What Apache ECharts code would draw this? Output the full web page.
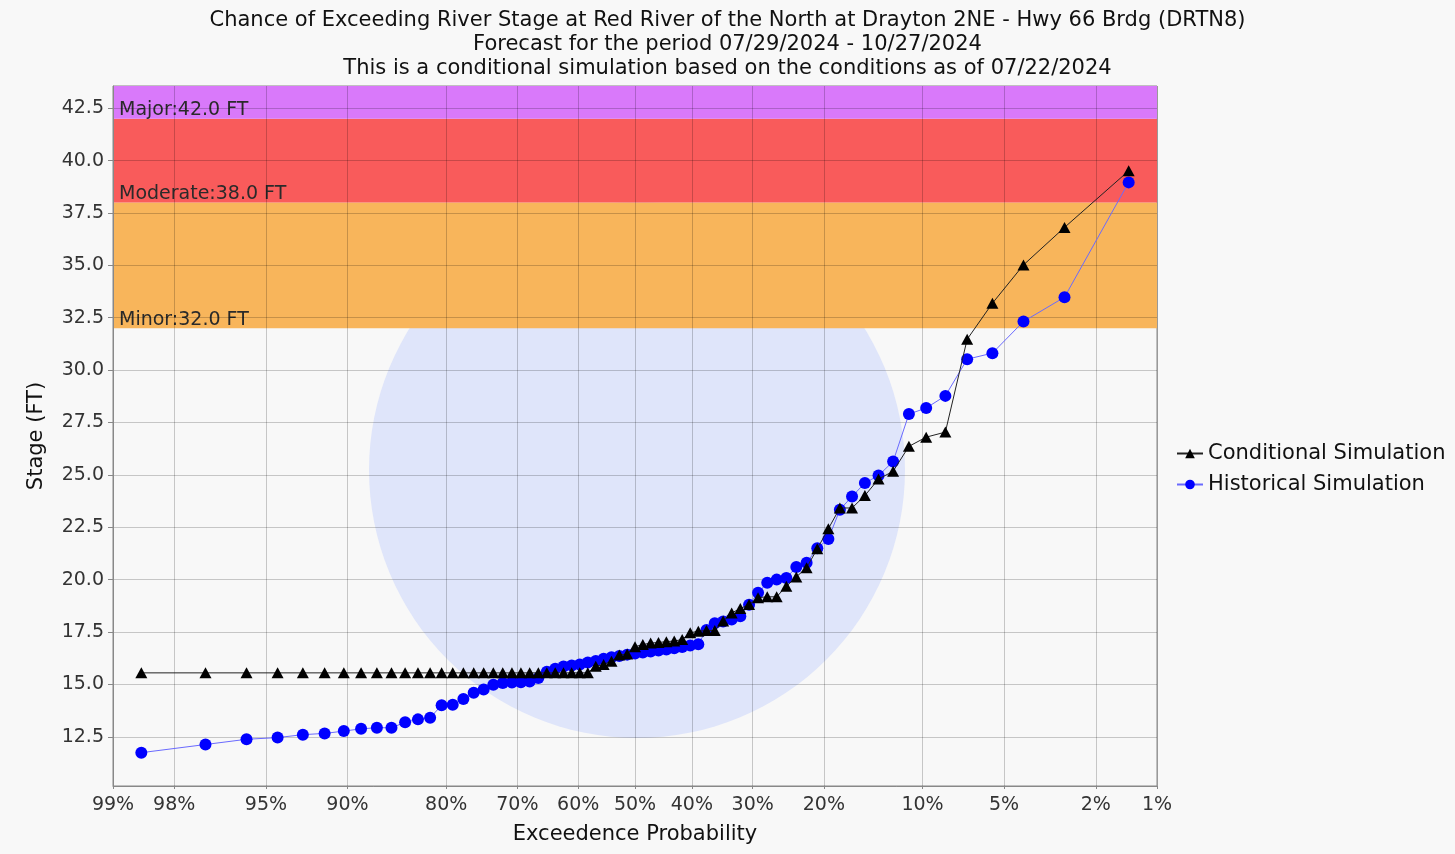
<!DOCTYPE html>
<html><head><meta charset="utf-8">
<script src="https://cdn.jsdelivr.net/npm/echarts@6/dist/echarts.min.js"></script>
<style>html,body{margin:0;padding:0;background:#ffffff}#c{width:1455px;height:854px}</style>
</head><body><div id="c"></div>
<script>
// Exceedance probability (%) of each ranked member, left to right
const exceedPct = [98.61, 97.22, 95.83, 94.44, 93.06, 91.67, 90.28, 88.89, 87.5, 86.11,
  84.72, 83.33, 81.94, 80.56, 79.17, 77.78, 76.39, 75.0, 73.61, 72.22,
  70.83, 69.44, 68.06, 66.67, 65.28, 63.89, 62.5, 61.11, 59.72, 58.33,
  56.94, 55.56, 54.17, 52.78, 51.39, 50.0, 48.61, 47.22, 45.83, 44.44,
  43.06, 41.67, 40.28, 38.89, 37.5, 36.11, 34.72, 33.33, 31.94, 30.56,
  29.17, 27.78, 26.39, 25.0, 23.61, 22.22, 20.83, 19.44, 18.06, 16.67,
  15.28, 13.89, 12.5, 11.11, 9.72, 8.33, 6.94, 5.56, 4.17, 2.78, 1.39];

const conditional = [15.55, 15.55, 15.55, 15.55, 15.55, 15.55, 15.55, 15.55, 15.55, 15.55,
  15.55, 15.55, 15.55, 15.55, 15.55, 15.55, 15.55, 15.55, 15.55, 15.55,
  15.55, 15.55, 15.55, 15.55, 15.55, 15.55, 15.55, 15.55, 15.55, 15.55,
  15.87, 15.95, 16.11, 16.40, 16.45, 16.80, 16.90, 16.97, 17.00, 17.04,
  17.07, 17.14, 17.46, 17.54, 17.57, 17.57, 18.02, 18.41, 18.62, 18.81,
  19.14, 19.18, 19.18, 19.68, 20.13, 20.57, 21.47, 22.43, 23.42, 23.42,
  24.01, 24.80, 25.17, 26.36, 26.80, 27.04, 31.47, 33.19, 35.02, 36.81, 39.51];

const historical = [11.74, 12.13, 12.38, 12.46, 12.60, 12.66, 12.77, 12.88, 12.93, 12.93,
  13.19, 13.33, 13.41, 14.00, 14.03, 14.30, 14.60, 14.76, 14.98, 15.07,
  15.09, 15.10, 15.14, 15.30, 15.60, 15.75, 15.85, 15.90, 15.95, 16.05,
  16.12, 16.22, 16.30, 16.36, 16.42, 16.47, 16.52, 16.57, 16.62, 16.67,
  16.72, 16.78, 16.86, 16.92, 17.60, 17.92, 18.00, 18.10, 18.25, 18.80,
  19.37, 19.85, 20.00, 20.08, 20.60, 20.80, 21.50, 21.94, 23.34, 23.97,
  24.61, 24.97, 25.64, 27.90, 28.19, 28.77, 30.52, 30.81, 32.32, 33.48, 38.96];

const xTickPct = [99, 98, 95, 90, 80, 70, 60, 50, 40, 30, 20, 10, 5, 2, 1];
const xTickLabels = ['99%', '98%', '95%', '90%', '80%', '70%', '60%', '50%', '40%', '30%', '20%', '10%', '5%', '2%', '1%'];
const yTicks = [12.5, 15.0, 17.5, 20.0, 22.5, 25.0, 27.5, 30.0, 32.5, 35.0, 37.5, 40.0, 42.5];

const floodNames = ['Minor', 'Moderate', 'Major'];
const floodStages = [32.0, 38.0, 42.0];

const titleLines = [
  'Chance of Exceeding River Stage at Red River of the North at Drayton 2NE - Hwy 66 Brdg (DRTN8)',
  'Forecast for the period 07/29/2024 - 10/27/2024',
  'This is a conditional simulation based on the conditions as of 07/22/2024'
];
const seriesNames = ['Conditional Simulation', 'Historical Simulation'];

// normal-probability (probit) axis transform
function probit(p) {
  const a = [-3.969683028665376e+01, 2.209460984245205e+02, -2.759285104469687e+02, 1.383577518672690e+02, -3.066479806614716e+01, 2.506628277459239e+00];
  const b = [-5.447609879822406e+01, 1.615858368580409e+02, -1.556989798598866e+02, 6.680131188771972e+01, -1.328068155288572e+01];
  const c = [-7.784894002430293e-03, -3.223964580411365e-01, -2.400758277161838e+00, -2.549732539343734e+00, 4.374664141464968e+00, 2.938163982698783e+00];
  const d = [7.784695709041462e-03, 3.224671290700398e-01, 2.445134137142996e+00, 3.754408661907416e+00];
  const pl = 0.02425, ph = 1 - pl;
  let q, r;
  if (p < pl) { q = Math.sqrt(-2 * Math.log(p)); return (((((c[0]*q+c[1])*q+c[2])*q+c[3])*q+c[4])*q+c[5]) / ((((d[0]*q+d[1])*q+d[2])*q+d[3])*q+1); }
  if (p <= ph) { q = p - 0.5; r = q*q; return (((((a[0]*r+a[1])*r+a[2])*r+a[3])*r+a[4])*r+a[5])*q / (((((b[0]*r+b[1])*r+b[2])*r+b[3])*r+b[4])*r+1); }
  q = Math.sqrt(-2 * Math.log(1 - p));
  return -(((((c[0]*q+c[1])*q+c[2])*q+c[3])*q+c[4])*q+c[5]) / ((((d[0]*q+d[1])*q+d[2])*q+d[3])*q+1);
}
const toAxis = pct => probit(1 - pct / 100);
const xTickVals = xTickPct.map(toAxis);

const Y_MIN = 10.15, Y_MAX = 43.56;
const FONT = 'DejaVu Sans';

const chart = echarts.init(document.getElementById('c'), null, { renderer: 'canvas' });
const bandColors = ['#F8B55B', '#F95B5B', '#D979FA'];
const bandTops = [floodStages[1], floodStages[2], Y_MAX];

chart.setOption({
  animation: false,
  backgroundColor: '#f8f8f8',
  textStyle: { fontFamily: FONT },
  title: {
    text: titleLines.join('\n'),
    left: 'center',
    top: 4,
    textStyle: { fontSize: 21, fontWeight: 'normal', color: '#111', lineHeight: 24, fontFamily: FONT }
  },
  graphic: [
    { type: 'circle', z: -10, silent: true, shape: { cx: 637, cy: 470, r: 268 }, style: { fill: '#dfe5fa' } }
  ],
  legend: {
    orient: 'vertical',
    left: 1171,
    top: 438,
    itemGap: 10,
    itemWidth: 26,
    itemHeight: 12,
    data: seriesNames,
    textStyle: { fontSize: 21, color: '#111', fontFamily: FONT }
  },
  grid: { left: 113, right: 298, top: 86, bottom: 68, show: true, borderColor: '#888', borderWidth: 1, backgroundColor: 'transparent', containLabel: false },
  xAxis: {
    type: 'value',
    min: toAxis(99), max: toAxis(1),
    z: 2,
    name: 'Exceedence Probability',
    nameLocation: 'middle',
    nameGap: 38,
    nameTextStyle: { fontSize: 21, color: '#111', fontFamily: FONT },
    axisLine: { show: true, onZero: false, lineStyle: { color: '#888', width: 1 } },
    axisTick: { show: true, customValues: xTickVals, length: 3, lineStyle: { color: '#888' } },
    axisLabel: {
      customValues: xTickVals,
      fontSize: 19, color: '#333', margin: 10, fontFamily: FONT,
      formatter: v => { let bi = 0, bd = 1e9; xTickVals.forEach((t, i) => { const dd = Math.abs(t - v); if (dd < bd) { bd = dd; bi = i; } }); return xTickLabels[bi]; }
    },
    splitLine: { show: true, lineStyle: { color: 'rgba(0,0,0,0.2)', width: 1 } }
  },
  yAxis: {
    type: 'value',
    min: Y_MIN, max: Y_MAX,
    z: 2,
    name: 'Stage (FT)',
    nameLocation: 'middle',
    nameGap: 66,
    nameRotate: 90,
    nameTextStyle: { fontSize: 21, color: '#111', fontFamily: FONT },
    axisLine: { show: true, onZero: false, lineStyle: { color: '#888', width: 1 } },
    axisTick: { show: true, customValues: yTicks, length: 5, lineStyle: { color: '#888' } },
    axisLabel: { customValues: yTicks, fontSize: 19, color: '#333', margin: 9, fontFamily: FONT, formatter: v => v.toFixed(1) },
    splitLine: { show: true, lineStyle: { color: 'rgba(0,0,0,0.2)', width: 1 } }
  },
  series: [
    {
      name: 'bands', type: 'line', data: [], z: 1, silent: true,
      markArea: {
        silent: true,
        data: floodStages.map((s, i) => [
          { yAxis: s, itemStyle: { color: bandColors[i] },
            label: { show: true, position: 'insideBottomLeft', distance: 2, offset: [4, 3],
              formatter: floodNames[i] + ':' + s.toFixed(1) + ' FT', fontSize: 19, color: '#2a2a2a', fontFamily: FONT } },
          { yAxis: bandTops[i] }
        ])
      }
    },
    {
      name: seriesNames[0], type: 'line', z: 4,
      data: exceedPct.map((p, i) => [toAxis(p), conditional[i]]),
      symbol: 'triangle', symbolSize: [12, 11], showSymbol: true,
      itemStyle: { color: '#000000' },
      lineStyle: { color: '#222222', width: 1 }
    },
    {
      name: seriesNames[1], type: 'line', z: 3,
      data: exceedPct.map((p, i) => [toAxis(p), historical[i]]),
      symbol: 'circle', symbolSize: 12, showSymbol: true,
      itemStyle: { color: '#0000ff' },
      lineStyle: { color: '#6a6aff', width: 1 }
    }
  ]
});
</script>
</body></html>
